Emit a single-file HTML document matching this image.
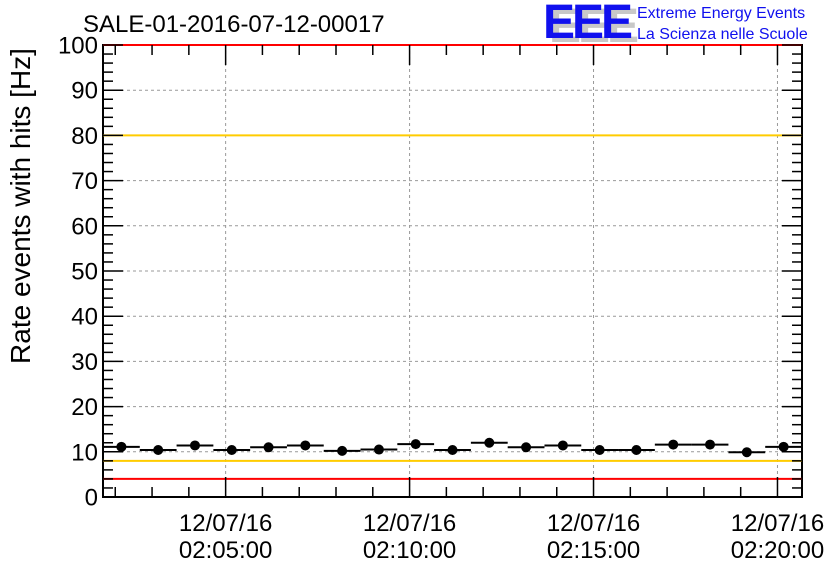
<!DOCTYPE html>
<html><head><meta charset="utf-8"><style>
body{margin:0;background:#fff}
svg{display:block;font-family:"Liberation Sans",sans-serif}
</style></head><body>
<svg id="c" width="836" height="572" viewBox="0 0 836 572">
<rect width="836" height="572" fill="#fff"/>
<text x="83" y="32" font-size="24">SALE-01-2016-07-12-00017</text>
<g>
<text x="549" y="42" font-size="48" font-weight="bold" fill="#c8c8c8" letter-spacing="-3">EEE</text>
<text x="543" y="38" font-size="48" font-weight="bold" fill="#1010ee" letter-spacing="-3">EEE</text>
<text x="637" y="18" font-size="16" fill="#1010ee">Extreme Energy Events</text>
<text x="637" y="39" font-size="16" fill="#1010ee">La Scienza nelle Scuole</text>
</g>
<text transform="translate(30,206) rotate(-90)" text-anchor="middle" font-size="28">Rate events with hits [Hz]</text>
<g id="grid"></g><g id="axes"></g><g id="marks"></g>
</svg>
<script>
const values=[11.1,10.4,11.4,10.4,11.0,11.4,10.2,10.5,11.7,10.4,12.0,11.0,11.4,10.4,10.4,11.6,11.6,9.9,11.1];
const yTicks=[0,10,20,30,40,50,60,70,80,90,100];
const xTickSeconds=[200,500,800,1100];
const xTickDates=["12/07/16","12/07/16","12/07/16","12/07/16"];
const xTickTimes=["02:05:00","02:10:00","02:15:00","02:20:00"];
const refLines=[{v:100,c:"#ff0000"},{v:80,c:"#ffcc00"},{v:8,c:"#ffcc00"},{v:4,c:"#ff0000"}];
const binSeconds=60, tMax=1140, yMax=100;
const L=103,R=802,T=45,B=497;
const X=s=>L+s/tMax*(R-L);
const Y=v=>B-v/yMax*(B-T);
const NS="http://www.w3.org/2000/svg";
function mk(tag,attrs,parent){const e=document.createElementNS(NS,tag);for(const k in attrs)e.setAttribute(k,attrs[k]);document.getElementById(parent).appendChild(e);return e;}
yTicks.forEach(v=>{if(v>0&&v<yMax){const g=mk('line',{x1:L,x2:R,y1:Y(v),y2:Y(v),stroke:'#999','stroke-dasharray':'3,3','stroke-width':1},'grid');

}});
xTickSeconds.forEach(s=>{const g=mk('line',{x1:X(s),x2:X(s),y1:T,y2:B,stroke:'#999','stroke-dasharray':'3,3','stroke-width':1},'grid');

});
const fr=mk('rect',{x:L,y:T,width:R-L,height:B-T,fill:'none',stroke:'#000','stroke-width':2},'axes');


refLines.forEach(r=>{const l=mk('line',{x1:L,x2:R,y1:Y(r.v),y2:Y(r.v),stroke:r.c,'stroke-width':2},'axes');

});
for(let v=0;v<=yMax;v+=2){const len=v%10===0?20:10;
mk('line',{x1:L,x2:L+len,y1:Y(v),y2:Y(v),stroke:'#000','stroke-width':1.5},'axes');
mk('line',{x1:R,x2:R-len,y1:Y(v),y2:Y(v),stroke:'#000','stroke-width':1.5},'axes');}
yTicks.forEach(v=>{const t=mk('text',{x:L-5,y:Y(v)+8.5,'text-anchor':'end','font-size':24},'axes');t.textContent=v;

});
for(let s=20;s<=tMax;s+=60){const major=xTickSeconds.includes(s);const len=major?20:10;
mk('line',{x1:X(s),x2:X(s),y1:B,y2:B-len,stroke:'#000','stroke-width':1.5},'axes');
mk('line',{x1:X(s),x2:X(s),y1:T,y2:T+len,stroke:'#000','stroke-width':1.5},'axes');}
xTickSeconds.forEach((s,i)=>{const t1=mk('text',{x:X(s),y:531,'text-anchor':'middle','font-size':24},'axes');t1.textContent=xTickDates[i];


const t2=mk('text',{x:X(s),y:558,'text-anchor':'middle','font-size':24},'axes');t2.textContent=xTickTimes[i];

});
values.forEach((v,i)=>{const s0=i*binSeconds,s1=s0+binSeconds;
const l=mk('line',{x1:X(s0),x2:X(s1),y1:Y(v),y2:Y(v),stroke:'#000','stroke-width':2},'marks');


const c=mk('circle',{cx:X((s0+s1)/2),cy:Y(v),r:5,fill:'#000'},'marks');

});
</script>
</body></html>
